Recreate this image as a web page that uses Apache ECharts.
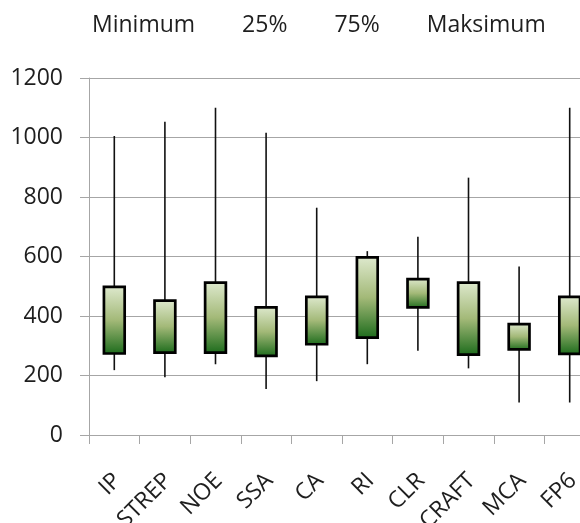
<!DOCTYPE html>
<html>
<head>
<meta charset="utf-8">
<script src="https://cdn.jsdelivr.net/npm/echarts@6/dist/echarts.min.js"></script>
<style>
  html, body { margin: 0; padding: 0; background: #ffffff; }
  #chart { width: 580px; height: 523px; }
</style>
</head>
<body>
<div id="chart"></div>
<script>
// ---- data ----
const categories = ['IP', 'STREP', 'NOE', 'SSA', 'CA', 'RI', 'CLR', 'CRAFT', 'MCA', 'FP6'];
const minimum  = [218, 194, 238, 155, 181, 238, 283, 224, 109, 109];
const q25      = [274, 277, 277, 266, 305, 327, 429, 270, 288, 273];
const q75      = [498, 452, 512, 429, 464, 597, 524, 512, 373, 464];
const maksimum = [1005, 1053, 1100, 1016, 764, 618, 666, 865, 566, 1100];
const yTicks   = [0, 200, 400, 600, 800, 1000, 1200];
const seriesNames = ['Minimum', '25%', '75%', 'Maksimum'];

const boxData = categories.map((c, i) => [i, minimum[i], q25[i], q75[i], maksimum[i]]);

const FONT = 'Open Sans';
const FS = 23;
const TEXT = '#1e1e1e';
const GRID = '#a6a6a6';

const chart = echarts.init(document.getElementById('chart'), null, { renderer: 'canvas' });

function renderBox(params, api) {
  const x = api.value(0);
  const lo = api.coord([x, api.value(1)]);
  const q1 = api.coord([x, api.value(2)]);
  const q3 = api.coord([x, api.value(3)]);
  const hi = api.coord([x, api.value(4)]);
  const w = api.size([1, 0])[0] * 0.41;
  return {
    type: 'group',
    children: [
      {
        type: 'line',
        shape: { x1: lo[0], y1: lo[1], x2: hi[0], y2: hi[1] },
        style: { stroke: '#111111', lineWidth: 1.6 }
      },
      {
        type: 'rect',
        shape: { x: q1[0] - w / 2, y: q3[1], width: w, height: q1[1] - q3[1] },
        style: {
          fill: new echarts.graphic.LinearGradient(0, 0, 0, 1, [
            { offset: 0, color: '#dfeacf' },
            { offset: 0.5, color: '#a3b978' },
            { offset: 1, color: '#1a6a1a' }
          ]),
          stroke: '#000000',
          lineWidth: 2.7
        }
      }
    ]
  };
}

const legendSeries = [minimum, q25, q75, maksimum].map((arr, k) => ({
  name: seriesNames[k],
  type: 'line',
  data: arr,
  symbol: 'none',
  silent: true,
  lineStyle: { width: 0, opacity: 0 },
  itemStyle: { opacity: 0 },
  z: 0
}));

chart.setOption({
  animation: false,
  backgroundColor: '#ffffff',
  textStyle: { fontFamily: FONT },
  legend: {
    data: seriesNames,
    left: 82,
    top: 9,
    itemWidth: 0,
    itemHeight: 0,
    itemGap: 42,
    selectedMode: false,
    textStyle: { fontFamily: FONT, fontSize: FS, color: TEXT }
  },
  grid: { left: 89, right: -15, top: 78, bottom: 88, containLabel: false, outerBoundsMode: 'none' },
  xAxis: {
    type: 'category',
    data: categories,
    boundaryGap: true,
    axisLine: { show: true, lineStyle: { color: GRID, width: 1 } },
    axisTick: { show: true, length: 9, interval: 0, lineStyle: { color: GRID } },
    axisLabel: {
      interval: 0,
      rotate: 45,
      margin: 29,
      verticalAlign: 'top',
      padding: [0, 7, 0, 0],
      fontFamily: FONT,
      fontSize: FS,
      color: TEXT
    },
    splitLine: { show: false }
  },
  yAxis: {
    type: 'value',
    min: yTicks[0],
    max: yTicks[yTicks.length - 1],
    interval: yTicks[1] - yTicks[0],
    axisLine: { show: true, lineStyle: { color: GRID, width: 1 } },
    axisTick: { show: true, length: 9, lineStyle: { color: GRID } },
    axisLabel: { margin: 26, fontFamily: FONT, fontSize: FS, color: TEXT, formatter: v => String(v) },
    splitLine: { show: true, lineStyle: { color: GRID, width: 1 } }
  },
  series: legendSeries.concat([{
    name: 'box',
    type: 'custom',
    renderItem: renderBox,
    data: boxData,
    encode: { x: 0, y: [1, 2, 3, 4] },
    z: 5
  }])
});
</script>
</body>
</html>
